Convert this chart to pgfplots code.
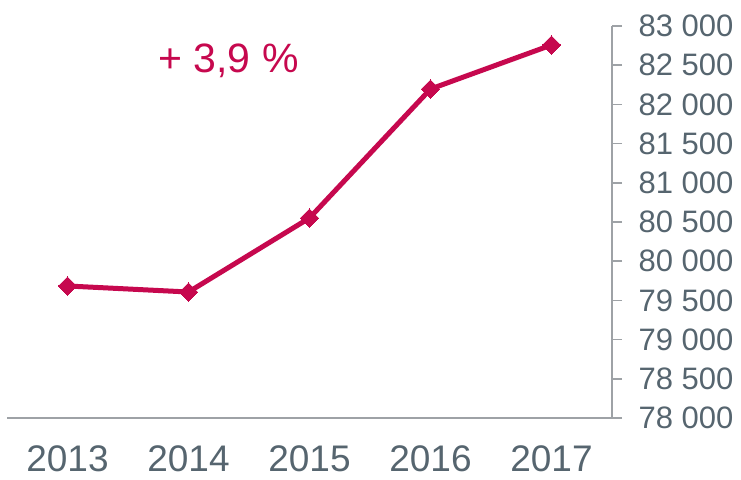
\documentclass[border=0pt]{standalone}
\usepackage{pgfplots}
\pgfplotsset{compat=1.18}
\usepackage{fontspec}
\setmainfont{Liberation Sans}
\definecolor{crim}{HTML}{C6084E}
\definecolor{txtgray}{HTML}{56656F}
\definecolor{axgray}{HTML}{9EA2A6}
\begin{document}
\begin{tikzpicture}
\begin{axis}[
  at={(0pt,0pt)}, anchor=south west,
  scale only axis,
  width=605pt, height=392pt,
  xmin=-0.5, xmax=4.5,
  ymin=78000, ymax=83000,
  axis y line*=right,
  axis x line*=bottom,
  axis line style={axgray, line width=1.5pt},
  xtick={0,1,2,3,4},
  xticklabels={2013,2014,2015,2016,2017},
  x tick style={draw=none},
  x tick label style={font=\fontsize{37}{37}\selectfont, text=txtgray, yshift=-14pt},
  ytick={78000,78500,...,83000},
  y tick style={axgray, line width=1.5pt},
  tick align=outside,
  major tick length=10pt,
  y tick label style={font=\fontsize{31}{31}\selectfont, text=txtgray, xshift=13pt},
  /pgf/number format/assume math mode=true,
  /pgf/number format/1000 sep={\ },
  scaled y ticks=false,
  clip=false,
]
\addplot[crim, line width=5pt, mark=square*, mark size=6.4pt, mark options={solid, fill=crim, line width=0pt, rotate=45}]
  coordinates {(0,79684)(1,79607)(2,80551)(3,82196)(4,82758)};
\node[text=crim, font=\fontsize{41}{41}\selectfont] at (axis cs:1.33,82550) {+ 3,9 \%};
\end{axis}
\pgfresetboundingbox
\useasboundingbox (-7pt,-61pt) rectangle (734pt,418pt);
\end{tikzpicture}
\end{document}
